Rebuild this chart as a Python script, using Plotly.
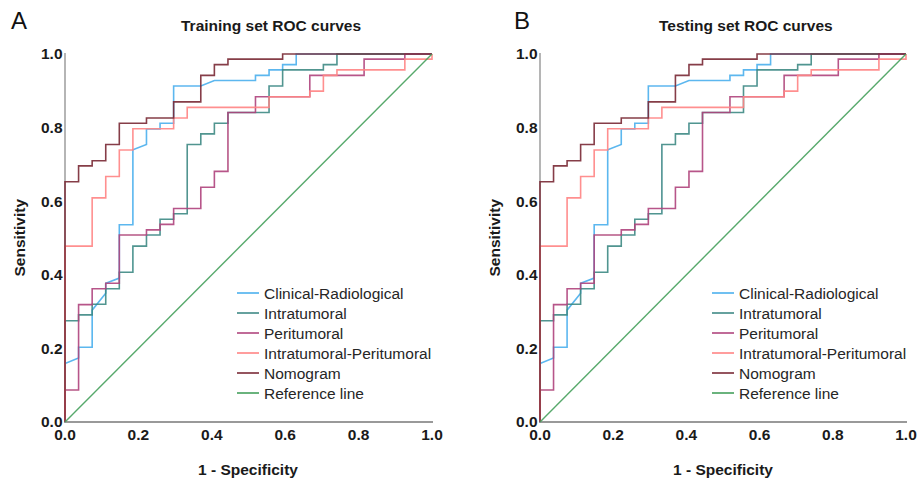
import plotly.graph_objects as go

W, H = 919, 479

# ---------------- data ----------------
series_names = ["Clinical-Radiological", "Intratumoral", "Peritumoral",
                "Intratumoral-Peritumoral", "Nomogram", "Reference line"]
series_colors = ["#4cb0ee", "#3f8a86", "#b0467e", "#ff8585", "#7a2a36", "#45a05c"]

clin_fpr = [0, 0, 0.037, 0.037, 0.074, 0.074, 0.111, 0.111, 0.148, 0.148, 0.185, 0.185,
            0.222, 0.222, 0.259, 0.259, 0.296, 0.296, 0.370, 0.407, 0.519, 0.519, 0.556,
            0.556, 0.593, 0.593, 0.630, 0.630, 1]
clin_tpr = [0, 0.159, 0.174, 0.203, 0.203, 0.304, 0.350, 0.377, 0.391, 0.536, 0.536, 0.740,
            0.754, 0.796, 0.796, 0.812, 0.812, 0.913, 0.913, 0.928, 0.928, 0.942, 0.942,
            0.957, 0.957, 0.971, 0.971, 1, 1]

intra_fpr = [0, 0, 0.037, 0.037, 0.074, 0.074, 0.111, 0.111, 0.148, 0.148, 0.185, 0.185,
             0.222, 0.222, 0.259, 0.259, 0.296, 0.296, 0.333, 0.333, 0.370, 0.370, 0.407,
             0.407, 0.444, 0.444, 0.556, 0.556, 0.593, 0.593, 0.704, 0.704, 0.741, 0.741, 1]
intra_tpr = [0, 0.275, 0.275, 0.291, 0.291, 0.320, 0.320, 0.362, 0.362, 0.407, 0.407, 0.478,
             0.478, 0.508, 0.508, 0.551, 0.551, 0.566, 0.566, 0.754, 0.754, 0.783, 0.783,
             0.812, 0.812, 0.841, 0.841, 0.913, 0.913, 0.957, 0.957, 0.971, 0.971, 1, 1]

peri_fpr = [0, 0, 0.037, 0.037, 0.074, 0.074, 0.111, 0.111, 0.148, 0.148, 0.222, 0.222,
            0.259, 0.259, 0.296, 0.296, 0.370, 0.370, 0.407, 0.407, 0.444, 0.444, 0.519,
            0.519, 0.667, 0.667, 0.815, 0.815, 0.926, 0.926, 1]
peri_tpr = [0, 0.087, 0.087, 0.319, 0.319, 0.362, 0.362, 0.377, 0.377, 0.508, 0.508, 0.522,
            0.522, 0.537, 0.537, 0.580, 0.580, 0.638, 0.638, 0.681, 0.681, 0.841, 0.841,
            0.884, 0.884, 0.942, 0.942, 0.986, 0.986, 1, 1]

ip_fpr = [0, 0, 0.074, 0.074, 0.111, 0.111, 0.148, 0.148, 0.185, 0.185, 0.296, 0.296,
          0.333, 0.333, 0.556, 0.556, 0.667, 0.667, 0.704, 0.704, 0.741, 0.741, 0.926,
          0.926, 1, 1]
ip_tpr = [0, 0.478, 0.478, 0.609, 0.609, 0.667, 0.667, 0.739, 0.739, 0.797, 0.797, 0.826,
          0.826, 0.855, 0.855, 0.884, 0.884, 0.899, 0.899, 0.942, 0.942, 0.957, 0.957,
          0.986, 0.986, 1]

nomo_fpr = [0, 0, 0.037, 0.037, 0.074, 0.074, 0.111, 0.111, 0.148, 0.148, 0.222, 0.222,
            0.296, 0.296, 0.370, 0.370, 0.407, 0.407, 0.444, 0.444, 0.593, 0.593, 1]
nomo_tpr = [0, 0.653, 0.653, 0.696, 0.696, 0.710, 0.710, 0.754, 0.754, 0.812, 0.812, 0.826,
            0.826, 0.870, 0.870, 0.942, 0.942, 0.971, 0.971, 0.986, 0.986, 1, 1]

ref_fpr = [0, 1]
ref_tpr = [0, 1]

tick_vals = [0, 0.2, 0.4, 0.6, 0.8, 1.0]
tick_text = ["0.0", "0.2", "0.4", "0.6", "0.8", "1.0"]

panel_titles = ["Training set ROC curves", "Testing set ROC curves"]
panel_letters = ["A", "B"]
x_title = "1 - Specificity"
y_title = "Sensitivity"

curves = [(clin_fpr, clin_tpr), (intra_fpr, intra_tpr), (peri_fpr, peri_tpr),
          (ip_fpr, ip_tpr), (nomo_fpr, nomo_tpr), (ref_fpr, ref_tpr)]

# ---------------- layout geometry (pixels) ----------------
FONT = "Liberation Sans, Arial, sans-serif"
plot_left = [65, 540]
plot_right = [432, 906]
letter_x = [19, 522]
plot_top, plot_bottom = 54, 422
pad = 0.004

fig = go.Figure()
annotations = []
shapes = []


def px(xp):
    return xp / W


def py(yp):
    return 1 - yp / H


for p in range(2):
    xa = "x" if p == 0 else "x2"
    ya = "y" if p == 0 else "y2"
    for i, (fx, ty) in enumerate(curves):
        fig.add_trace(go.Scatter(
            x=fx, y=ty, mode="lines", name=series_names[i],
            line=dict(color=series_colors[i], width=1.6 if i < 5 else 1.4),
            opacity=0.9, showlegend=False, xaxis=xa, yaxis=ya,
            hoverinfo="skip"))

    L, R = plot_left[p], plot_right[p]
    ux = R - L
    uy = plot_bottom - plot_top
    xdom = [(L - pad * ux) / W, (R + pad * ux) / W]
    ydom = [1 - (plot_bottom + pad * uy) / H, 1 - (plot_top - pad * uy) / H]
    common = dict(range=[-pad, 1 + pad], showgrid=False, showline=False,
                  zeroline=True, ticks="", tickvals=tick_vals, ticktext=tick_text,
                  automargin=False,
                  tickfont=dict(family=FONT, size=15.5, color="#1a1a1a", weight="bold"),
                  fixedrange=True)
    fig.layout["xaxis" + ("" if p == 0 else "2")] = dict(
        domain=xdom, anchor=ya, zerolinecolor="#b5b5b5", zerolinewidth=1.6, **common)
    fig.layout["yaxis" + ("" if p == 0 else "2")] = dict(
        domain=ydom, anchor=xa, zerolinecolor="#9a9a9a", zerolinewidth=1.8, **common)

    cx = (L + R) / 2
    annotations.append(dict(text=panel_letters[p], x=px(letter_x[p]), y=py(20), xref="paper",
                            yref="paper", showarrow=False, xanchor="center", yanchor="middle",
                            font=dict(family=FONT, size=24, color="#111")))
    annotations.append(dict(text=panel_titles[p], x=px(cx + 22.5), y=py(25), xref="paper",
                            yref="paper", showarrow=False, xanchor="center", yanchor="middle",
                            font=dict(family=FONT, size=15.5, color="#1a1a1a", weight="bold")))
    annotations.append(dict(text=x_title, x=px(cx), y=py(469), xref="paper", yref="paper",
                            showarrow=False, xanchor="center", yanchor="middle",
                            font=dict(family=FONT, size=15.5, color="#1a1a1a", weight="bold")))
    annotations.append(dict(text=y_title, x=px(L - 46.5), y=py((plot_top + plot_bottom) / 2),
                            xref="paper", yref="paper", showarrow=False, textangle=-90,
                            xanchor="center", yanchor="middle",
                            font=dict(family=FONT, size=15.5, color="#1a1a1a", weight="bold")))

    # legend
    lx0 = L + 172
    for i, name in enumerate(series_names):
        yy = 293 + 20 * i
        shapes.append(dict(type="line", xref="paper", yref="paper",
                           x0=px(lx0), x1=px(lx0 + 22), y0=py(yy), y1=py(yy),
                           line=dict(color=series_colors[i], width=1.6)))
        annotations.append(dict(text=name, x=px(lx0 + 25), y=py(yy), xref="paper",
                                yref="paper", showarrow=False, xanchor="left",
                                yanchor="middle",
                                font=dict(family=FONT, size=15.5, color="#262626")))

fig.update_layout(width=W, height=H, margin=dict(l=0, r=0, t=0, b=0, autoexpand=False),
                  paper_bgcolor="white", plot_bgcolor="white", showlegend=False,
                  annotations=annotations, shapes=shapes)

fig.write_html("out.html")
